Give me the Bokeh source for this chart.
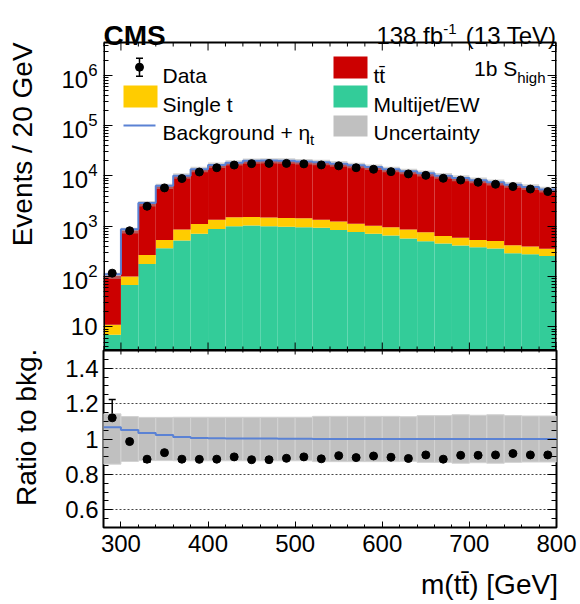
import numpy as np
from bokeh.plotting import figure
from bokeh.layouts import column
from bokeh.models import (ColumnDataSource, FixedTicker, LinearAxis, LogAxis, Label,
                          Whisker, TeeHead, CustomJSTickFormatter, Range1d)
from bokeh.embed import file_html
from bokeh.resources import INLINE

# ---------------- data ----------------
edges = list(range(280, 801, 20))
data = [117, 815, 2500, 5800, 8900, 12000, 14600, 16500, 17600, 17800, 17800, 17400, 16600,
        15900, 14600, 13600, 12200, 11000, 10300, 9000, 8300, 7500, 6850, 6160, 5500, 4900]
multijet = [7.0, 68, 179, 365, 520, 715, 885, 1000, 1040, 1000, 980, 960, 935,
            840, 770, 715, 660, 575, 505, 455, 415, 385, 362, 292, 278, 257]
single_t = [4.1, 32, 91, 170, 340, 400, 465, 510, 490, 490, 490, 485, 415,
            400, 360, 315, 295, 285, 255, 190, 175, 150, 148, 128, 117, 100]
ttbar = [93.4, 727, 2552, 5749, 9185, 12444, 15129, 16844, 18402, 18669, 18508, 17910, 17344,
         16310, 15183, 14014, 12646, 11500, 10559, 9513, 8551, 7725, 7017, 6290, 5649, 5028]
eta_t = [6.9, 42, 96, 145, 110, 81, 60, 55, 50, 45, 40, 35, 12,
         9, 7, 6, 5, 4, 3, 3, 2, 2, 2, 1, 1, 1]
rel_unc = [0.142, 0.127, 0.122, 0.122, 0.123, 0.123, 0.123, 0.123, 0.123, 0.123, 0.123, 0.123, 0.128,
           0.128, 0.128, 0.128, 0.128, 0.126, 0.132, 0.132, 0.137, 0.134, 0.137, 0.132, 0.130, 0.130]
x_ticks = [300, 400, 500, 600, 700, 800]
log_ticks = [1, 2, 3, 4, 5, 6]
ratio_ticks = [0.6, 0.8, 1.0, 1.2, 1.4]

# ---------------- derived ----------------
e = np.array(edges, dtype=float)
left, right = e[:-1], e[1:]
centers = 0.5 * (left + right)
mj = np.array(multijet); st = np.array(single_t); tt = np.array(ttbar)
d = np.array(data, dtype=float); eta = np.array(eta_t); unc = np.array(rel_unc)
g_top = mj
y_top = mj + st
total = mj + st + tt
sig = total + eta
derr = np.sqrt(d)
ratio = d / total
rerr = derr / total
sig_ratio = sig / total

# ---------------- geometry (page pixels) ----------------
W = 580
FX0, FX1 = 103, 556
TY0, TY1 = 42, 350
RY0, RY1 = 350, 527
H_TOTAL = 604
XMIN, XMAX = 280, 800
YMIN, YMAX = 3.4, 4.5e6
RMIN, RMAX = 0.5, 1.5
LT, LB = np.log10(YMAX), np.log10(YMIN)


def px_x(px):
    return float(XMIN + (px - FX0) / (FX1 - FX0) * (XMAX - XMIN))


def py_top(py):
    return float(10 ** (LT - (py - TY0) / (TY1 - TY0) * (LT - LB)))


def py_rat(py):
    return float(RMAX - (py - RY0) / (RY1 - RY0) * (RMAX - RMIN))


# the upper figure also holds the header strip above the histogram box
YCANVAS = py_top(0)

ARIAL = {' ': 278, '(': 333, ')': 333, '-': 333, '1': 556, '3': 556, '8': 556, 'b': 556,
         'f': 278, 'T': 611, 'e': 556, 'V': 667, 'S': 667, 'h': 556, 'i': 222, 'g': 556}


def tw(s, size):
    return sum(ARIAL[c] for c in s) / 1000.0 * size


def lead_pad(text_px, pad_px, size):
    n = int(round(pad_px / (0.278 * size)))
    return "\u00a0" * max(n, 0)


FONT = "Liberation Sans"


def add_text(fig, x, y, txt, size, align="left", baseline="alphabetic", bold=False):
    fig.add_layout(Label(x=x, y=y, text=txt, text_font=FONT,
                         text_font_size=f"{size}px", text_align=align,
                         text_baseline=baseline, text_color="black",
                         text_font_style="bold" if bold else "normal"))


def hide_labels(ax):
    ax.major_label_text_font_size = "1px"
    ax.major_label_text_alpha = 0
    ax.major_label_standoff = 0


def style_axis(ax):
    ax.major_tick_out = 0
    ax.minor_tick_out = 0
    ax.axis_line_color = None
    ax.major_tick_line_color = "black"
    ax.minor_tick_line_color = "black"
    ax.major_label_text_font = FONT
    ax.major_label_text_color = "black"
    ax.axis_label_text_font = FONT
    ax.axis_label_text_font_style = "normal"
    ax.axis_label_text_color = "black"


RED, YEL, GRN, GRY, BLU = "#cc0000", "#ffcc00", "#33cc99", "#c0c0c0", "#5b82d4"

log_major = [10.0 ** k for k in log_ticks]
log_minor = [m * 10.0 ** k for k in range(0, 7) for m in range(2, 10) if m * 10.0 ** k < YMAX]
x_minor = list(range(280, 801, 20))
xt_major = [float(t) for t in x_ticks]
xt_minor = [float(t) for t in x_minor if t not in x_ticks]

xr = Range1d(XMIN, XMAX)

# ---------------- top panel (incl. header) ----------------
top = figure(width=W, height=TY1, x_range=xr, y_range=Range1d(YMIN, YCANVAS),
             y_axis_type="log", x_axis_location=None, output_backend="svg",
             toolbar_location=None, title=None, min_border_left=FX0, min_border_right=W - FX1,
             min_border_top=0, min_border_bottom=0)
top.outline_line_color = None
top.grid.visible = False
top.background_fill_color = "white"
top.border_fill_color = "white"

top.add_layout(LogAxis(), "right")
for ax in top.yaxis:
    style_axis(ax)
    ax.ticker = FixedTicker(ticks=log_major, minor_ticks=log_minor)
    ax.major_tick_in = 9
    ax.minor_tick_in = 5
ly = top.yaxis[0]
ly.major_label_text_font_size = "24px"
ly.major_label_standoff = 6
ly.major_label_overrides = {10.0: "10"}
ly_title = "Events / 20 GeV"
ly.axis_label = lead_pad(206, TY1 - 2 * TY0 - 206, 28) + ly_title
ly.axis_label_text_font_size = "28px"
ly.axis_label_standoff = 20
top.yaxis[1].axis_label = None
hide_labels(top.yaxis[1])

src = ColumnDataSource(dict(left=left, right=right, g=g_top, y=y_top, tot=total,
                            lo=total * (1 - unc), hi=total * (1 + unc)))
top.quad(left="left", right="right", bottom=YMIN / 10, top="g", source=src,
         fill_color=GRN, line_color=None)
top.quad(left="left", right="right", bottom="g", top="y", source=src,
         fill_color=YEL, line_color=None)
top.quad(left="left", right="right", bottom="y", top="tot", source=src,
         fill_color=RED, line_color=None)
top.quad(left="left", right="right", bottom="lo", top="hi", source=src,
         fill_color="#a8a8a8", fill_alpha=0.5, line_color=None)
top.step(x=list(e), y=list(sig) + [sig[-1]], mode="after", line_color=BLU, line_width=2)
top.segment(x0=centers, x1=centers, y0=d - derr, y1=d + derr, line_color="black", line_width=1.5)
top.scatter(x=centers, y=d, size=8, color="black")

top.segment(x0=xt_major, x1=xt_major, y0=[YMIN] * len(xt_major),
            y1=[py_top(TY1 - 8)] * len(xt_major), line_color="black", line_width=1)
top.segment(x0=xt_minor, x1=xt_minor, y0=[YMIN] * len(xt_minor),
            y1=[py_top(TY1 - 4)] * len(xt_minor), line_color="black", line_width=1)
top.segment(x0=xt_major, x1=xt_major, y0=[YMAX] * len(xt_major),
            y1=[py_top(TY0 + 8)] * len(xt_major), line_color="black", line_width=1)
top.segment(x0=xt_minor, x1=xt_minor, y0=[YMAX] * len(xt_minor),
            y1=[py_top(TY0 + 4)] * len(xt_minor), line_color="black", line_width=1)

top.segment(x0=[XMIN, XMIN, XMAX, XMIN], x1=[XMAX, XMIN, XMAX, XMAX],
            y0=[YMAX, YMIN, YMIN, YMIN], y1=[YMAX, YMAX, YMAX, YMIN],
            line_color="black", line_width=[2, 3, 3, 3])

add_text(top, px_x(103), py_top(35), "CMS", 28, bold=True)
lumi_r = 556
l1 = lumi_r - tw("(13 TeV)", 24)
add_text(top, px_x(lumi_r), py_top(35), "(13 TeV)", 24, align="right")
sup_r = l1 - tw(" ", 24)
add_text(top, px_x(sup_r), py_top(28), "-1", 15, align="right")
add_text(top, px_x(sup_r - tw("-1", 15)), py_top(35), "138 fb", 24, align="right")

cat_r = 545
add_text(top, px_x(cat_r), py_top(77), "high", 15, align="right")
add_text(top, px_x(cat_r - tw("high", 15)), py_top(68), "1b S", 21, align="right")

top.segment(x0=[px_x(139)], x1=[px_x(139)], y0=[py_top(75.7)], y1=[py_top(57.7)],
            line_color="black", line_width=1.5)
top.segment(x0=[px_x(135.5), px_x(135.5)], x1=[px_x(142.5), px_x(142.5)],
            y0=[py_top(75.7), py_top(57.7)], y1=[py_top(75.7), py_top(57.7)],
            line_color="black", line_width=1.5)
top.scatter(x=[px_x(139)], y=[py_top(66.7)], size=8, color="black")
add_text(top, px_x(162), py_top(75), "Data", 21)

top.quad(left=[px_x(123)], right=[px_x(157)], top=[py_top(85)], bottom=[py_top(107)],
         fill_color=YEL, line_color=None)
add_text(top, px_x(162), py_top(104), "Single t", 21)

top.segment(x0=[px_x(123)], x1=[px_x(155)], y0=[py_top(125)], y1=[py_top(125)],
            line_color=BLU, line_width=2)
add_text(top, px_x(162), py_top(132), "Background + \u03b7", 21)
add_text(top, px_x(309.5), py_top(139), "t", 15)

top.quad(left=[px_x(333)], right=[px_x(367)], top=[py_top(56)], bottom=[py_top(78)],
         fill_color=RED, line_color=None)
add_text(top, px_x(373), py_top(75), "tt\u0304", 21)
top.quad(left=[px_x(333)], right=[px_x(367)], top=[py_top(85)], bottom=[py_top(107)],
         fill_color=GRN, line_color=None)
add_text(top, px_x(373), py_top(104), "Multijet/EW", 21)
top.quad(left=[px_x(333)], right=[px_x(367)], top=[py_top(115)], bottom=[py_top(136)],
         fill_color=GRY, line_color=None)
add_text(top, px_x(373), py_top(132), "Uncertainty", 21)

# ---------------- ratio panel ----------------
rat = figure(width=W, height=H_TOTAL - RY0, x_range=xr, y_range=Range1d(RMIN, RMAX),
             output_backend="svg", toolbar_location=None, title=None, min_border_left=FX0,
             min_border_right=W - FX1, min_border_top=0, min_border_bottom=H_TOTAL - RY1)
rat.outline_line_color = "black"
rat.outline_line_width = 2
rat.background_fill_color = "white"
rat.border_fill_color = "white"
rat.xgrid.visible = False
rat.ygrid.ticker = FixedTicker(ticks=ratio_ticks)
rat.ygrid.grid_line_color = "#444444"
rat.ygrid.grid_line_dash = "2 2"
rat.ygrid.grid_line_width = 1

rat.add_layout(LinearAxis(), "right")
r_minor = [round(0.5 + 0.05 * i, 2) for i in range(21)]
for ax in rat.axis:
    style_axis(ax)
    ax.major_label_text_font_size = "24px"
x_title = "m(tt\u0304) [GeV]"
for ax in rat.xaxis:
    ax.ticker = FixedTicker(ticks=x_ticks, minor_ticks=x_minor)
    ax.major_tick_in = 6
    ax.minor_tick_in = 3
    ax.major_label_standoff = 7
    ax.axis_label = lead_pad(137, (FX1 - FX0) - 137, 28) + x_title
    ax.axis_label_text_font_size = "28px"
    ax.axis_label_standoff = 14
for ax in rat.yaxis:
    ax.ticker = FixedTicker(ticks=ratio_ticks, minor_ticks=r_minor)
    ax.major_tick_in = 9
    ax.minor_tick_in = 5
    ax.major_label_standoff = 5
    ax.formatter = CustomJSTickFormatter(code="return (Math.round(tick*10)/10).toString();")
r_title = "Ratio to bkg."
rat.yaxis[0].axis_label = lead_pad(157, (RY1 - RY0) - 157, 28) + r_title
rat.yaxis[0].axis_label_text_font_size = "28px"
rat.yaxis[0].axis_label_standoff = 20
rat.yaxis[1].axis_label = None
hide_labels(rat.yaxis[1])

rsrc = ColumnDataSource(dict(left=left, right=right, lo=1 - unc, hi=1 + unc))
rat.quad(left="left", right="right", bottom="lo", top="hi", source=rsrc,
         fill_color=GRY, line_color="#d2d2d2", line_width=1)
rat.step(x=list(e), y=list(sig_ratio) + [sig_ratio[-1]], mode="after",
         line_color=BLU, line_width=2)

rat.segment(x0=xt_major, x1=xt_major, y0=[RMAX] * len(xt_major),
            y1=[py_rat(RY0 + 4)] * len(xt_major), line_color="black", line_width=1)
rat.segment(x0=xt_minor, x1=xt_minor, y0=[RMAX] * len(xt_minor),
            y1=[py_rat(RY0 + 2)] * len(xt_minor), line_color="black", line_width=1)

dsrc = ColumnDataSource(dict(x=centers, r=ratio, lo=ratio - rerr, hi=ratio + rerr))
rat.add_layout(Whisker(source=dsrc, base="x", upper="hi", lower="lo", dimension="height",
                       line_color="black", line_width=1.5,
                       upper_head=TeeHead(size=7, line_color="black", line_width=1.5),
                       lower_head=TeeHead(size=7, line_color="black", line_width=1.5)))
rat.scatter(x="x", y="r", source=dsrc, size=8, color="black")

layout = column(top, rat, spacing=0)
open("out.html", "w").write(file_html(layout, INLINE))
